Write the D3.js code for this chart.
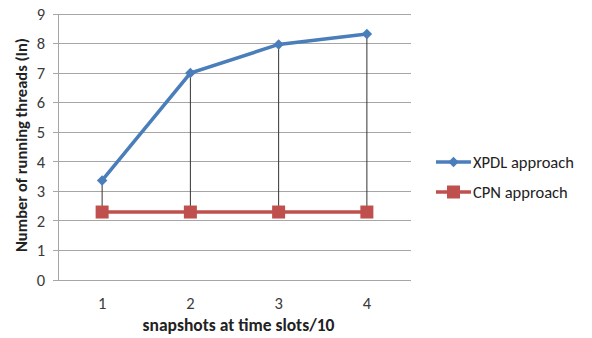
<!DOCTYPE html>
<html><head><meta charset="utf-8">
<script src="https://cdn.jsdelivr.net/npm/d3@7"></script>
<style>body{margin:0;background:#fff}svg{display:block}text{font-family:Carlito,Lato,"Open Sans",sans-serif;fill:#222}</style>
</head><body><svg id="c" width="592" height="338"></svg>
<script>
const categories = ["1","2","3","4"];
const xpdl = [3.37, 7.0, 7.97, 8.32];
const cpn = [2.3, 2.3, 2.3, 2.3];
const yTicks = [0,1,2,3,4,5,6,7,8,9];
const seriesNames = ["XPDL approach","CPN approach"];

const svg = d3.select("#c");
const L=58,R=411,T=14,B=280;
const x = d3.scaleBand().domain(categories).range([L,R]);
const y = d3.scaleLinear().domain([0,9]).range([B,T]);
const cx = d => x(d)+x.bandwidth()/2;

// gridlines
svg.append("g").selectAll("line").data(yTicks).join("line")
 .attr("x1",L-5).attr("x2",R).attr("y1",d=>y(d)).attr("y2",d=>y(d))
 .attr("stroke","#a6a6a6").attr("stroke-width",1).attr("shape-rendering","crispEdges");
svg.append("line").attr("x1",L).attr("x2",L).attr("y1",T).attr("y2",B)
 .attr("stroke","#a6a6a6").attr("shape-rendering","crispEdges");

// y labels
svg.append("g").selectAll("text").data(yTicks).join("text")
 .attr("x",L-13).attr("y",d=>y(d)).attr("dy","0.35em").attr("text-anchor","end")
 .style("font-size","16.5px").style("fill","#3a3a3a").text(d=>d);
// x labels
svg.append("g").selectAll("text").data(categories).join("text")
 .attr("x",d=>cx(d)).attr("y",303).attr("dy","0.35em").attr("text-anchor","middle")
 .style("font-size","16.5px").style("fill","#3a3a3a").text(d=>d);

// titles
svg.append("text").attr("x",(L+R)/2+4).attr("y",331).attr("text-anchor","middle")
 .style("font-size","17.5px").style("font-weight","bold").text("snapshots at time slots/10");
svg.append("text").attr("transform","translate(27,145) rotate(-90)")
 .attr("text-anchor","middle").style("font-size","16.5px").style("font-weight","bold")
 .text("Number of running threads (In)");

// high-low lines
svg.append("g").selectAll("line").data(categories).join("line")
 .attr("x1",d=>cx(d)).attr("x2",d=>cx(d))
 .attr("y1",(d,i)=>y(xpdl[i])).attr("y2",(d,i)=>y(cpn[i]))
 .attr("stroke","#333").attr("stroke-width",1);

const line = d3.line().x((d,i)=>cx(categories[i])).y(d=>y(d));
svg.append("path").datum(cpn).attr("d",line).attr("fill","none")
 .attr("stroke","#c0504d").attr("stroke-width",3.5);
svg.append("path").datum(xpdl).attr("d",line).attr("fill","none")
 .attr("stroke","#4a7ebb").attr("stroke-width",3.5);

svg.append("g").selectAll("path").data(xpdl).join("path")
 .attr("transform",(d,i)=>`translate(${cx(categories[i])},${y(d)}) rotate(45)`)
 .attr("d",d3.symbol().type(d3.symbolSquare).size(55)).attr("fill","#4a7ebb");
svg.append("g").selectAll("rect").data(cpn).join("rect")
 .attr("x",(d,i)=>cx(categories[i])-6.5).attr("y",d=>y(d)-6.5)
 .attr("width",13).attr("height",13).attr("fill","#c0504d");

// legend
const colors=["#4a7ebb","#c0504d"];
const lg = svg.append("g");
seriesNames.forEach((n,i)=>{
  const yy = 162 + i*30;
  lg.append("line").attr("x1",436).attr("x2",471).attr("y1",yy).attr("y2",yy)
    .attr("stroke",colors[i]).attr("stroke-width",3.5);
  if(i===0){
    lg.append("path").attr("transform",`translate(453.5,${yy}) rotate(45)`)
      .attr("d",d3.symbol().type(d3.symbolSquare).size(55)).attr("fill",colors[i]);
  } else {
    lg.append("rect").attr("x",447).attr("y",yy-6.5).attr("width",13).attr("height",13).attr("fill",colors[i]);
  }
  lg.append("text").attr("x",473).attr("y",yy).attr("dy","0.35em")
    .style("font-size","16.5px").text(n);
});
</script></body></html>
